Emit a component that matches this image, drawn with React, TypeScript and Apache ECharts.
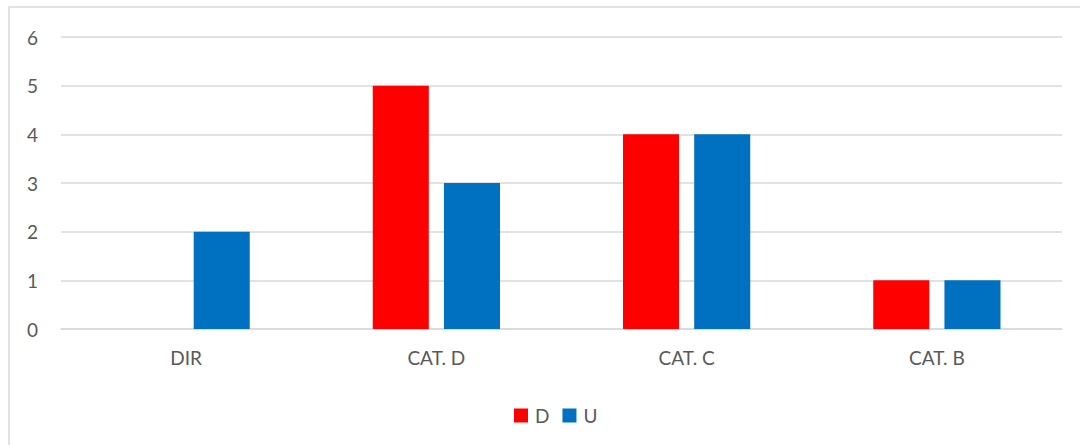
import React, { useEffect, useRef } from "react";
import * as echarts from "echarts";

const categories = ["DIR", "CAT. D", "CAT. C", "CAT. B"];
const seriesD = [0, 5, 4, 1];
const seriesU = [2, 3, 4, 1];
const yTicks = { min: 0, max: 6, interval: 1 };

export default function App() {
  const ref = useRef<HTMLDivElement>(null);
  useEffect(() => {
    document.body.style.margin = "0";
    const chart = echarts.init(ref.current!, null, { renderer: "svg" });
    const font = "Lato, 'Open Sans', sans-serif";
    chart.setOption({
      animation: false,
      textStyle: { fontFamily: font },
      graphic: [
        {
          type: "rect",
          shape: { x: 9, y: 7, width: 1200, height: 600 },
          style: { fill: "none", stroke: "#d9d9d9", lineWidth: 1.5 },
          silent: true,
          z: -1,
        },
      ],
      grid: { left: 61, right: 18, top: 37, bottom: 116, containLabel: false },
      legend: {
        top: 401,
        left: 509,
        padding: 5,
        itemWidth: 14,
        itemHeight: 14,
        itemGap: 13,
        icon: "rect",
        textStyle: { color: "#595959", fontSize: 19, fontFamily: font, padding: [0, 0, 0, 2] },
        data: ["D", "U"],
      },
      xAxis: {
        type: "category",
        data: categories,
        axisLine: { show: true, lineStyle: { color: "#d9d9d9", width: 1.5 } },
        axisTick: { show: false },
        axisLabel: { color: "#595959", fontSize: 19, margin: 19, fontFamily: font },
      },
      yAxis: {
        type: "value",
        min: yTicks.min,
        max: yTicks.max,
        interval: yTicks.interval,
        axisLine: { show: false },
        axisTick: { show: false },
        splitLine: { lineStyle: { color: "#d9d9d9", width: 1.5 } },
        axisLabel: { color: "#595959", fontSize: 19, margin: 23, fontFamily: font },
      },
      series: [
        {
          name: "D",
          type: "bar",
          data: seriesD,
          itemStyle: { color: "#ff0000" },
          barWidth: "22.4%",
          barGap: "27%",
        },
        {
          name: "U",
          type: "bar",
          data: seriesU,
          itemStyle: { color: "#0070c0" },
          barWidth: "22.4%",
          barGap: "27%",
        },
      ],
    });
    return () => chart.dispose();
  }, []);
  return <div ref={ref} style={{ width: 1080, height: 445 }} />;
}
